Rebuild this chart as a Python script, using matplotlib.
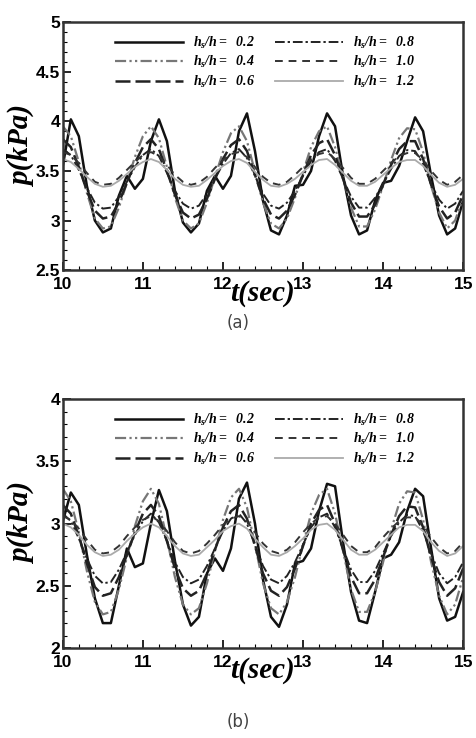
import numpy as np
import matplotlib
matplotlib.use("Agg")
import matplotlib.pyplot as plt
from matplotlib.ticker import MultipleLocator, FormatStrFormatter

plt.rcParams['mathtext.fontset'] = 'custom'
plt.rcParams['mathtext.rm'] = 'Liberation Serif:bold:italic'
plt.rcParams['mathtext.it'] = 'Liberation Serif:bold:italic'
plt.rcParams['mathtext.bf'] = 'Liberation Serif:bold:italic'

# time axis (s)
t = np.round(np.arange(10.0, 15.0001, 0.1), 1)

ratios = ["0.2", "0.4", "0.6", "0.8", "1.0", "1.2"]

# panel (a)
pa_02 = [3.55, 4.02, 3.85, 3.35, 3.00, 2.88, 2.92, 3.25, 3.45, 3.32, 3.42, 3.80, 4.02, 3.80, 3.30, 2.98, 2.88,
         2.97, 3.30, 3.45, 3.32, 3.45, 3.90, 4.08, 3.70, 3.20, 2.90, 2.86, 3.05, 3.35, 3.36, 3.50, 3.85, 4.08,
         3.95, 3.45, 3.05, 2.86, 2.90, 3.20, 3.38, 3.40, 3.55, 3.80, 4.04, 3.90, 3.45, 3.05, 2.86, 2.92, 3.20]
pa_04 = [3.95, 3.85, 3.59, 3.28, 3.02, 2.92, 2.94, 3.13, 3.38, 3.64, 3.85, 3.95, 3.83, 3.54, 3.23, 3.00, 2.92,
         2.97, 3.18, 3.44, 3.69, 3.88, 3.95, 3.80, 3.49, 3.18, 2.97, 2.92, 3.02, 3.23, 3.49, 3.74, 3.90, 3.95,
         3.74, 3.44, 3.13, 2.94, 2.94, 3.11, 3.35, 3.61, 3.83, 3.93, 3.92, 3.69, 3.35, 3.08, 2.92, 3.00, 3.23]
pa_06 = [3.82, 3.74, 3.54, 3.30, 3.10, 3.02, 3.04, 3.18, 3.38, 3.58, 3.74, 3.82, 3.72, 3.50, 3.26, 3.08, 3.02,
         3.06, 3.22, 3.42, 3.62, 3.76, 3.82, 3.70, 3.46, 3.22, 3.06, 3.02, 3.10, 3.26, 3.46, 3.66, 3.78, 3.82,
         3.66, 3.42, 3.18, 3.04, 3.04, 3.16, 3.36, 3.56, 3.72, 3.80, 3.80, 3.62, 3.36, 3.14, 3.02, 3.08, 3.26]
pa_08 = [3.72, 3.66, 3.51, 3.33, 3.18, 3.12, 3.13, 3.24, 3.39, 3.54, 3.66, 3.72, 3.65, 3.48, 3.30, 3.17, 3.12,
         3.15, 3.27, 3.42, 3.57, 3.68, 3.72, 3.63, 3.45, 3.27, 3.15, 3.12, 3.18, 3.30, 3.45, 3.60, 3.69, 3.72,
         3.60, 3.42, 3.24, 3.13, 3.13, 3.23, 3.37, 3.52, 3.65, 3.71, 3.70, 3.57, 3.37, 3.21, 3.12, 3.17, 3.30]
pa_10 = [3.69, 3.66, 3.58, 3.48, 3.39, 3.36, 3.37, 3.43, 3.51, 3.59, 3.66, 3.69, 3.65, 3.56, 3.46, 3.39, 3.36,
         3.38, 3.44, 3.53, 3.61, 3.67, 3.69, 3.64, 3.54, 3.44, 3.38, 3.36, 3.39, 3.46, 3.54, 3.62, 3.67, 3.69,
         3.62, 3.53, 3.43, 3.37, 3.37, 3.42, 3.50, 3.58, 3.65, 3.68, 3.68, 3.61, 3.50, 3.41, 3.36, 3.39, 3.46]
pa_12 = [3.62, 3.59, 3.52, 3.44, 3.37, 3.34, 3.35, 3.40, 3.47, 3.54, 3.59, 3.62, 3.59, 3.51, 3.42, 3.36, 3.34,
         3.35, 3.41, 3.48, 3.55, 3.60, 3.62, 3.58, 3.49, 3.41, 3.35, 3.34, 3.37, 3.42, 3.49, 3.56, 3.61, 3.62,
         3.56, 3.48, 3.40, 3.35, 3.35, 3.39, 3.46, 3.53, 3.59, 3.61, 3.61, 3.55, 3.46, 3.38, 3.34, 3.36, 3.42]

# panel (b)
pb_02 = [3.02, 3.25, 3.15, 2.75, 2.40, 2.20, 2.20, 2.50, 2.80, 2.65, 2.68, 3.00, 3.27, 3.10, 2.70, 2.35, 2.18,
         2.25, 2.60, 2.72, 2.62, 2.80, 3.20, 3.33, 3.00, 2.55, 2.25, 2.17, 2.35, 2.68, 2.70, 2.80, 3.10, 3.32,
         3.30, 2.85, 2.45, 2.22, 2.20, 2.45, 2.72, 2.75, 2.85, 3.10, 3.28, 3.22, 2.80, 2.40, 2.22, 2.25, 2.45]
pb_04 = [3.28, 3.18, 2.93, 2.62, 2.37, 2.27, 2.29, 2.47, 2.73, 2.98, 3.18, 3.28, 3.16, 2.88, 2.57, 2.35, 2.27,
         2.32, 2.52, 2.78, 3.03, 3.21, 3.28, 3.13, 2.83, 2.52, 2.32, 2.27, 2.37, 2.57, 2.83, 3.08, 3.23, 3.28,
         3.08, 2.78, 2.47, 2.29, 2.29, 2.45, 2.69, 2.95, 3.16, 3.26, 3.25, 3.03, 2.69, 2.42, 2.27, 2.35, 2.57]
pb_06 = [3.15, 3.08, 2.90, 2.68, 2.49, 2.42, 2.44, 2.57, 2.75, 2.93, 3.08, 3.15, 3.06, 2.86, 2.64, 2.48, 2.42,
         2.46, 2.60, 2.79, 2.97, 3.10, 3.15, 3.04, 2.82, 2.60, 2.46, 2.42, 2.49, 2.64, 2.82, 3.00, 3.11, 3.15,
         3.00, 2.79, 2.57, 2.44, 2.44, 2.55, 2.73, 2.91, 3.06, 3.14, 3.13, 2.97, 2.73, 2.53, 2.42, 2.48, 2.64]
pb_08 = [3.08, 3.02, 2.88, 2.72, 2.58, 2.52, 2.53, 2.63, 2.77, 2.91, 3.02, 3.08, 3.01, 2.86, 2.69, 2.57, 2.52,
         2.55, 2.66, 2.80, 2.94, 3.04, 3.08, 3.00, 2.83, 2.66, 2.55, 2.52, 2.58, 2.69, 2.83, 2.97, 3.05, 3.08,
         2.97, 2.80, 2.63, 2.53, 2.53, 2.62, 2.76, 2.90, 3.01, 3.07, 3.06, 2.94, 2.76, 2.60, 2.52, 2.57, 2.69]
pb_10 = [3.06, 3.03, 2.96, 2.87, 2.79, 2.76, 2.77, 2.82, 2.90, 2.97, 3.03, 3.06, 3.02, 2.94, 2.85, 2.78, 2.76,
         2.78, 2.84, 2.91, 2.99, 3.04, 3.06, 3.02, 2.93, 2.84, 2.78, 2.76, 2.79, 2.85, 2.93, 3.00, 3.05, 3.06,
         3.00, 2.91, 2.82, 2.77, 2.77, 2.81, 2.89, 2.96, 3.02, 3.05, 3.05, 2.99, 2.89, 2.81, 2.76, 2.78, 2.85]
pb_12 = [3.00, 2.97, 2.91, 2.83, 2.77, 2.74, 2.75, 2.79, 2.86, 2.92, 2.97, 3.00, 2.97, 2.90, 2.82, 2.76, 2.74,
         2.75, 2.81, 2.87, 2.94, 2.98, 3.00, 2.96, 2.88, 2.81, 2.75, 2.74, 2.77, 2.82, 2.88, 2.95, 2.99, 3.00,
         2.95, 2.87, 2.79, 2.75, 2.75, 2.79, 2.85, 2.91, 2.97, 2.99, 2.99, 2.94, 2.85, 2.78, 2.74, 2.76, 2.82]

# line styles for hs/h = 0.2 ... 1.2
styles = [
    dict(color='#111111', lw=1.8, ls='-'),
    dict(color='#777777', lw=1.6, ls=(0, (5, 1.5, 1, 1.5, 1, 1.5))),
    dict(color='#222222', lw=1.8, ls=(0, (6, 2))),
    dict(color='#222222', lw=1.4, ls=(0, (5, 1.5, 1.2, 1.5))),
    dict(color='#333333', lw=1.4, ls=(0, (4, 3))),
    dict(color='#aaaaaa', lw=1.3, ls='-'),
]


def panel(ax, series, ylo, yhi):
    for y, st, r in zip(series, styles, ratios):
        ax.plot(t, y, label=r'$h_s/h=\ \ %s$' % r, **st)
    ax.set_xlim(10, 15)
    ax.set_ylim(ylo, yhi)
    ax.xaxis.set_major_locator(MultipleLocator(1))
    ax.xaxis.set_minor_locator(MultipleLocator(0.2))
    ax.yaxis.set_major_locator(MultipleLocator(0.5))
    ax.yaxis.set_minor_locator(MultipleLocator(0.1))
    ax.yaxis.set_major_formatter(FormatStrFormatter('%g'))
    ax.tick_params(which='both', direction='in', top=False, right=False)
    ax.tick_params(which='major', length=6, width=1.2, labelsize=12.5)
    ax.tick_params(axis='x', which='major', pad=5)
    ax.tick_params(axis='y', which='major', pad=2)
    ax.tick_params(which='minor', length=3, width=0.8)
    for lab in ax.get_xticklabels() + ax.get_yticklabels():
        lab.set_fontweight('bold')
        lab.set_family('Liberation Sans')
    for sp in ax.spines.values():
        sp.set_linewidth(1.8)
        sp.set_color('#333333')
    ax.set_xlabel('t(sec)', family='Liberation Serif', style='italic', weight='bold', fontsize=21, labelpad=-9)
    ax.set_ylabel('p(kPa)', family='Liberation Serif', style='italic', weight='bold', fontsize=21, labelpad=0)
    ax.legend(ncol=2, frameon=False, fontsize=10, handlelength=4.9, columnspacing=1.4,
              handletextpad=0.7, labelspacing=0.25, loc='upper left', bbox_to_anchor=(0.1, 1.0))


fig = plt.figure(figsize=(4.76, 7.38), dpi=100)
ax1 = fig.add_axes([0.132, 0.634, 0.841, 0.336])
ax2 = fig.add_axes([0.132, 0.122, 0.841, 0.337])

panel(ax1, [pa_02, pa_04, pa_06, pa_08, pa_10, pa_12], 2.5, 5)
panel(ax2, [pb_02, pb_04, pb_06, pb_08, pb_10, pb_12], 2, 4)

fig.text(0.5, 1 - 323 / 738, '(a)', ha='center', va='center', fontsize=12, color='#444444')
fig.text(0.5, 1 - 722 / 738, '(b)', ha='center', va='center', fontsize=12, color='#444444')

fig.savefig('out.png', dpi=100)
